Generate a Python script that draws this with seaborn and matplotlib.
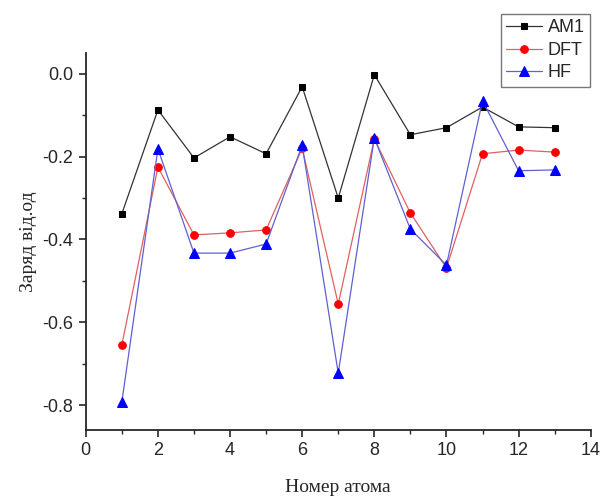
import numpy as np
import pandas as pd
import matplotlib
matplotlib.use('Agg')
import matplotlib.pyplot as plt
import seaborn as sns
from matplotlib.ticker import MultipleLocator

# charges
atoms = list(range(1, 14))
am1 = [-0.338, -0.087, -0.203, -0.152, -0.193, -0.031, -0.300, -0.002, -0.147, -0.130, -0.080, -0.128, -0.130]
dft = [-0.655, -0.225, -0.389, -0.384, -0.377, -0.180, -0.556, -0.157, -0.336, -0.469, -0.193, -0.184, -0.189]
hf = [-0.793, -0.181, -0.433, -0.433, -0.411, -0.172, -0.723, -0.155, -0.375, -0.462, -0.065, -0.234, -0.232]

methods = ['AM1', 'DFT', 'HF']
colors = ['black', 'red', 'blue']
line_colors = ['#333333', '#e06060', '#6060d0']
markers = ['s', 'o', '^']
msizes = [5, 5.5, 7.5]

df = pd.DataFrame({'atom': atoms * 3,
                   'charge': am1 + dft + hf,
                   'method': sum([[m] * len(atoms) for m in methods], [])})

sns.set_style('ticks')
plt.rcParams['font.family'] = ['Liberation Sans', 'DejaVu Sans']

fig = plt.figure(figsize=(6.04, 4.97), dpi=100)
ax = fig.add_axes([0.142, 0.135, 0.836, 0.758])

for m, c, lc, mk, ms in zip(methods, colors, line_colors, markers, msizes):
    sub = df[df['method'] == m]
    sns.lineplot(data=sub, x='atom', y='charge', ax=ax, color=lc, lw=0.9,
                 marker=mk, markersize=ms,
                 markerfacecolor=c, markeredgecolor=c, label=m)

ax.set_xlim(0, 14)
ax.set_ylim(-0.86, 0.05)
ax.xaxis.set_major_locator(MultipleLocator(2))
ax.xaxis.set_minor_locator(MultipleLocator(1))
ax.yaxis.set_major_locator(MultipleLocator(0.2))
ax.yaxis.set_minor_locator(MultipleLocator(0.1))
ax.yaxis.set_major_formatter(matplotlib.ticker.FuncFormatter(lambda v, p: f'{v:.1f}'))
ax.tick_params(which='major', direction='out', length=5, width=1.2, labelsize=13, pad=4)
ax.tick_params(which='minor', direction='out', length=3, width=1.0)
sns.despine(ax=ax)
for s in ['left', 'bottom']:
    ax.spines[s].set_linewidth(1.3)

ax.set_xlabel('Номер атома', family=['Liberation Serif', 'DejaVu Serif'], fontsize=14, labelpad=14)
ax.set_ylabel('Заряд від.од', family=['Liberation Serif', 'DejaVu Serif'], fontsize=14, labelpad=4)

leg = ax.legend(loc='upper right', bbox_to_anchor=(590 / 604, 1 - 14 / 497),
                bbox_transform=fig.transFigure, fontsize=13, frameon=True,
                fancybox=False, edgecolor='#555555', handlelength=2.0,
                borderpad=0.3, labelspacing=0.3, handletextpad=0.3, borderaxespad=0)
leg.get_frame().set_linewidth(1.0)

fig.savefig('out.png', dpi=100)
